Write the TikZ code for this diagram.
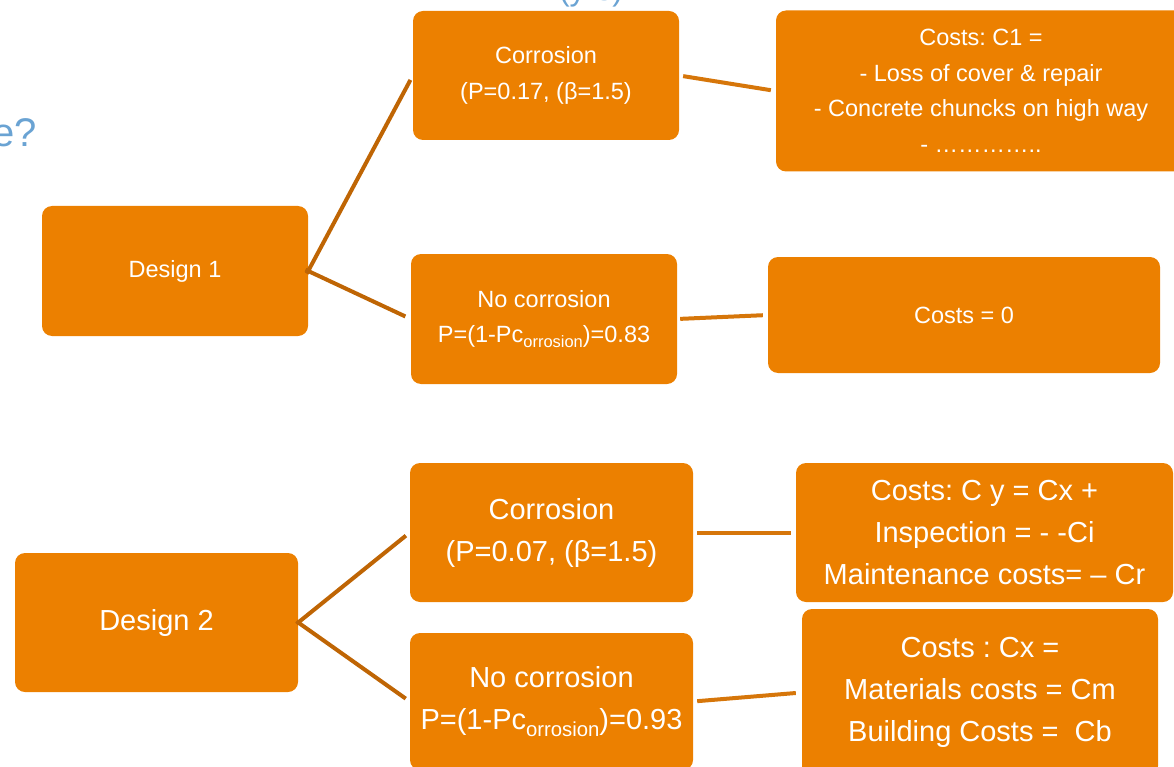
\documentclass[tikz,border=0pt]{standalone}
\usepackage{fontspec}
\setmainfont{Liberation Sans}
\frenchspacing
\definecolor{boxfill}{HTML}{EC8000}
\definecolor{linkdark}{HTML}{BF6504}
\definecolor{linklight}{HTML}{D6760A}
\definecolor{titleblue}{HTML}{6AA3D3}
\tikzset{
  box/.style={fill=boxfill, draw=none, rounded corners=10pt, text=white,
              align=center, inner sep=0pt, anchor=center},
  small/.style={font=\fontsize{23.5}{35.5}\selectfont},
  large/.style={font=\fontsize{29}{42}\selectfont},
  linkA/.style={draw=linkdark, line width=4pt},
  linkB/.style={draw=linklight, line width=4pt},
}
\newcommand{\subtxt}[1]{\raisebox{-0.22em}{\fontsize{0.7em}{0.7em}\selectfont #1}}
\begin{document}
\begin{tikzpicture}[x=1pt, y=-1pt]
\useasboundingbox (0,0) rectangle (1174,767);

% title fragments
\node[anchor=base east, text=titleblue, inner sep=0pt,
      font=\fontsize{40}{40}\selectfont] (ttl) at (37,147) {e?};
\node[anchor=base, text=titleblue, inner sep=0pt,
      font=\fontsize{32}{32}\selectfont] (ttltop) at (591,1) {(yrs)};

% design 1 branch
\node[box, small, minimum width=266pt, minimum height=130pt] (d1) at (175,271) {Design 1};
\node[box, small, minimum width=266pt, minimum height=129pt] (a1) at (546,75.5)
  {Corrosion\\(P=0.17, (β=1.5)};
\node[box, small, minimum width=266pt, minimum height=130pt] (b1) at (544,319)
  {No corrosion\\P=(1-Pc\subtxt{orrosion})=0.83};
\node[box, small, minimum width=410pt, minimum height=161pt] (c1) at (981,91)
  {Costs: C1 =\\- Loss of cover \& repair\\- Concrete chuncks on high way\\- …………..};
\node[box, small, minimum width=392pt, minimum height=116pt] (c0) at (964,315) {Costs = 0};

% design 2 branch
\node[box, large, minimum width=283pt, minimum height=139pt] (d2) at (156.5,622.5) {Design 2};
\node[box, large, minimum width=283pt, minimum height=139pt] (a2) at (551.5,532.5)
  {Corrosion\\(P=0.07, (β=1.5)};
\node[box, large, minimum width=283pt, minimum height=137pt] (b2) at (551.5,701.5)
  {No corrosion\\P=(1-Pc\subtxt{orrosion})=0.93};
\node[box, large, minimum width=377pt, minimum height=139pt] (cy) at (984.5,532.5)
  {Costs: C y = Cx +\\Inspection = - -Ci\\Maintenance costs= – Cr};
\node[box, large, minimum width=356pt, minimum height=167pt] (cx) at (980,692.5)
  {Costs : Cx =\\Materials costs = Cm\\Building Costs = \ Cb};

% connectors
\draw[linkA, shorten <=-3pt, shorten >=5pt] (d1.east) -- (a1.west);
\draw[linkA, shorten <=-3pt, shorten >=6pt] (d1.east) -- (b1.west);
\draw[linkB, shorten <=4pt, shorten >=5pt] (a1.east) -- (c1.west);
\draw[linkB, shorten <=3pt, shorten >=5pt] (b1.east) -- (c0.west);
\draw[linkA, shorten <=-2pt, shorten >=5pt] (d2.east) -- (a2.west);
\draw[linkA, shorten <=-2pt, shorten >=5pt] (d2.east) -- (b2.west);
\draw[linkB, shorten <=4pt, shorten >=5pt] (a2.east) -- (cy.west);
\draw[linkB, shorten <=4pt, shorten >=6pt] (b2.east) -- (cx.west);
\end{tikzpicture}
\end{document}
